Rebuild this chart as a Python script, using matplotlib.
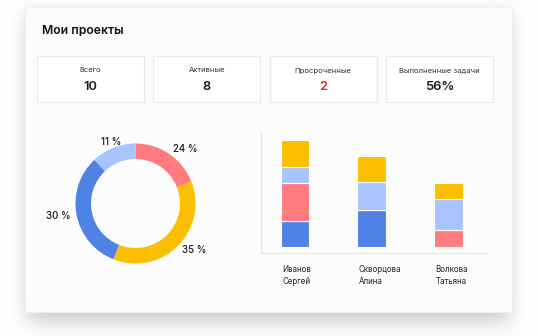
import math

import matplotlib.pyplot as plt
import numpy as np
from matplotlib.patches import Rectangle

plt.rcParams["font.family"] = ["Inter", "DejaVu Sans"]

W, H = 538, 336

title = "Мои проекты"
kpi_labels = ["Всего", "Активные", "Просроченные", "Выполненные задачи"]
kpi_values = ["10", "8", "2", "56%"]
kpi_colors = ["#1a1a1a", "#1a1a1a", "#e8242c", "#1a1a1a"]

# donut: arc sizes as drawn, labels as printed
share_sizes = [19, 37, 32, 12]
share_labels = ["24 %", "35 %", "30 %", "11 %"]
share_colors = ["#ff7b80", "#fbbf00", "#4f82e4", "#a8c4ff"]

people = ["Иванов\nСергей", "Скворцова\nАлина", "Волкова\nТатьяна"]
seg_blue = [26, 37, 0]
seg_red = [38, 0, 17]
seg_light = [16, 28, 31]
seg_yellow = [27, 26, 16]
seg_colors = ["#4f82e4", "#ff7b80", "#a8c4ff", "#fbbf00"]


def box(x0, y0, x1, y1):
    # figure fraction rect from pixel coords (top-left origin)
    return [x0 / W, 1 - y1 / H, (x1 - x0) / W, (y1 - y0) / H]


fig = plt.figure(figsize=(W / 100, H / 100), dpi=100)
fig.patch.set_facecolor("white")

# background with soft card shadow
bg = fig.add_axes([0, 0, 1, 1])
bg.set_xlim(0, W)
bg.set_ylim(H, 0)
bg.axis("off")

erf = np.vectorize(math.erf)
xs = np.arange(W) + 0.5
ys = np.arange(H) + 0.5
s = 14.0
fx = 0.5 * (erf((xs - 27) / s) - erf((xs - 510) / s))
fy = 0.5 * (erf((ys - 14) / s) - erf((ys - 322) / s))
shade = 0.2 * np.outer(fy, fx)
img = np.dstack([1 - shade] * 3)
bg.imshow(img, extent=(0, W, H, 0), interpolation="bilinear", zorder=0)

bg.add_patch(Rectangle((25, 7), 487, 305, facecolor="#fcfcfc",
                       edgecolor="#f0f0f0", linewidth=0.6, zorder=1))
bg.text(42, 30.5, title, fontsize=8.8, fontweight="semibold", color="#111111",
        va="center", ha="left", zorder=2)

box_w, box_gap = 107, 9.3
for i, (lab, val, col) in enumerate(zip(kpi_labels, kpi_values, kpi_colors)):
    x0 = 37 + i * (box_w + box_gap)
    bg.add_patch(Rectangle((x0, 56), box_w, 46, facecolor="white",
                           edgecolor="#ebebeb", linewidth=0.8, zorder=2))
    bg.text(x0 + box_w / 2, 70.5, lab, fontsize=5.5, color="#333333",
            ha="center", va="center", zorder=3)
    bg.text(x0 + box_w / 2, 86.5, val, fontsize=9.3, fontweight="semibold",
            color=col, ha="center", va="center", zorder=3)

# donut
R = 60
ax_p = fig.add_axes(box(135.5 - 100, 203.5 - 100, 135.5 + 100, 203.5 + 100))
ax_p.set_zorder(3)
wedges, _ = ax_p.pie(share_sizes, colors=share_colors, startangle=90,
                     counterclock=False, radius=1.0,
                     wedgeprops=dict(width=15.5 / R, edgecolor="none"))
lim = 100 / R
ax_p.set_xlim(-lim, lim)
ax_p.set_ylim(-lim, lim)
ax_p.set_aspect("equal")
ax_p.axis("off")
for w, lab in zip(wedges, share_labels):
    ang = math.radians((w.theta1 + w.theta2) / 2)
    x, y = 1.1 * math.cos(ang), 1.1 * math.sin(ang)
    if abs(x) < 0.45:
        ha = "center"
    else:
        ha = "left" if x > 0 else "right"
    ax_p.text(x, y, lab, fontsize=7, fontweight="medium", color="#1a1a1a",
              ha=ha, va="center")

# stacked bars
ax_b = fig.add_axes(box(261, 132, 488, 253))
ax_b.set_zorder(3)
ax_b.patch.set_alpha(0)
pos = np.arange(len(people))
bw = 0.373
bottom = np.zeros(len(people))
for vals, col in zip([seg_blue, seg_red, seg_light, seg_yellow], seg_colors):
    vals = np.array(vals, dtype=float)
    ax_b.bar(pos, vals, bw, bottom=bottom, color=col, edgecolor="white",
             linewidth=0.8)
    bottom += vals
ax_b.set_xlim(-0.443, 2.515)
ax_b.set_ylim(-6.3, 114.7)
for side in ["top", "right"]:
    ax_b.spines[side].set_visible(False)
for side in ["left", "bottom"]:
    ax_b.spines[side].set_color("#e6e6e6")
    ax_b.spines[side].set_linewidth(0.8)
ax_b.set_xticks([])
ax_b.set_yticks([])
for p, name in zip(pos, people):
    ax_b.text(p - bw / 2 + 0.02, -18, name, fontsize=5.7, color="#222222",
              ha="left", va="top", linespacing=1.45, clip_on=False)

fig.savefig("out.png", dpi=100, facecolor=fig.get_facecolor())
